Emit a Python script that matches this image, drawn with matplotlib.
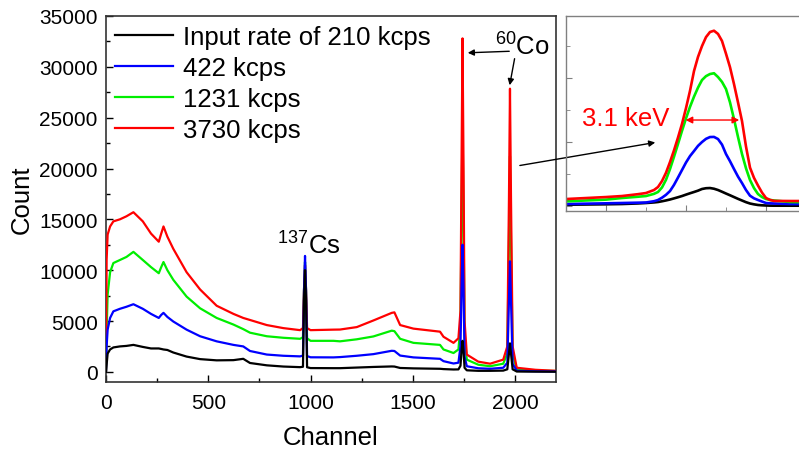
import matplotlib
matplotlib.use("Agg")
import matplotlib.pyplot as plt
from matplotlib.ticker import MultipleLocator

plt.rcParams['font.family'] = ['Liberation Sans', 'DejaVu Sans']
plt.rcParams['mathtext.fontset'] = 'custom'
plt.rcParams['mathtext.rm'] = 'Liberation Sans'

# Spectrum (channel -> count)
channels = [0, 3, 8, 20, 36, 68, 100, 134, 180, 220, 258, 270, 281, 300, 329, 394,
            460, 541, 623, 671, 704, 786, 867, 949, 963, 968, 973, 978, 983, 1000,
            1112, 1144, 1226, 1307, 1397, 1410, 1438, 1503, 1633, 1650, 1699, 1723,
            1733, 1738, 1743, 1748, 1753, 1764, 1820, 1878, 1942, 1962, 1970, 1975,
            1980, 1988, 2008, 2100, 2200]
count_210 = [0, 700, 1800, 2200, 2400, 2500, 2550, 2650, 2450, 2300, 2300, 2250, 2200,
             2150, 1900, 1500, 1250, 1130, 1150, 1280, 870, 640, 520, 460, 500, 7000,
             10000, 7000, 450, 370, 360, 360, 420, 480, 530, 520, 380, 340, 300, 270,
             230, 240, 600, 2000, 3050, 2000, 400, 150, 100, 100, 120, 250, 1800, 2800,
             1800, 250, 30, 20, 10]
count_422 = [0, 2500, 4150, 5300, 5950, 6200, 6400, 6650, 6200, 5700, 5300, 5600, 5800,
             5400, 4950, 4150, 3500, 3000, 2650, 2500, 2050, 1700, 1580, 1520, 1600, 8000,
             11400, 8000, 1550, 1430, 1420, 1450, 1580, 1740, 2070, 2050, 1600, 1420, 1280,
             1050, 820, 900, 2500, 8000, 12500, 8000, 1500, 550, 350, 300, 400, 900, 7000,
             10870, 7000, 800, 100, 50, 30]
count_1231 = [0, 4000, 7600, 9800, 10700, 11000, 11300, 11800, 11000, 10300, 9700, 10300,
              10800, 10000, 9050, 7400, 6250, 5300, 4650, 4200, 3850, 3500, 3350, 3250,
              3400, 8000, 10800, 8000, 3300, 3050, 3050, 3000, 3200, 3480, 4050, 4000,
              3250, 2850, 2650, 2200, 1850, 2200, 4500, 15000, 25000, 15000, 3500, 1200,
              700, 550, 800, 1800, 13000, 21200, 13000, 1800, 250, 120, 80]
count_3730 = [0, 11000, 13500, 14300, 14800, 15000, 15300, 15700, 14800, 13600, 12800,
              13600, 14300, 13300, 12100, 9800, 8100, 6500, 5700, 5300, 5100, 4600, 4300,
              4100, 4300, 8000, 10500, 8000, 4300, 4100, 4150, 4160, 4400, 5050, 5800,
              5850, 4600, 4250, 3950, 3450, 2850, 3300, 6000, 20000, 32800, 20000, 5000,
              1700, 1000, 800, 1200, 2500, 17000, 27850, 17000, 2500, 400, 200, 100]

# Zoomed 60Co peak (inset)
inset_ch = [1955, 1960, 1962, 1964, 1965, 1966, 1966.5, 1967, 1967.5, 1968, 1968.5,
            1969, 1969.5, 1970, 1970.5, 1971, 1971.5, 1972, 1972.5, 1973, 1973.5, 1974,
            1974.5, 1975, 1975.5, 1976, 1976.5, 1977, 1977.5, 1978, 1978.5, 1979,
            1979.5, 1980, 1980.5, 1981, 1983, 1986]
inset_210 = [200, 270, 310, 400, 470, 560, 625, 740, 870, 1015, 1190, 1370, 1560, 1780,
             1990, 2190, 2400, 2660, 2780, 2810, 2700, 2500, 2230, 1950, 1680, 1400, 1120,
             860, 600, 390, 260, 160, 110, 80, 60, 50, 50, 50]
inset_422 = [310, 420, 470, 520, 550, 750, 940, 1300, 1750, 2340, 3300, 4450, 5625, 6800,
             7800, 8590, 9400, 10000, 10500, 10780, 10800, 10470, 9600, 8125, 7000, 5780,
             4600, 3590, 2500, 1610, 1200, 940, 700, 470, 420, 390, 310, 310]
inset_1231 = [730, 1000, 1250, 1450, 1560, 1900, 2190, 2900, 4100, 5780, 7700, 9700,
              11750, 13700, 15500, 17090, 18500, 19690, 20300, 20630, 20750, 20160, 19400,
              18280, 16200, 13590, 10800, 8130, 5900, 4060, 2800, 1875, 1400, 1090, 950,
              860, 625, 580]
inset_3730 = [1090, 1400, 1560, 1850, 2030, 2500, 2970, 3900, 5200, 6870, 8700, 10700,
              12840, 15300, 18000, 21090, 23300, 25000, 26400, 27200, 27400, 26900, 25800,
              23800, 21700, 19060, 16200, 13280, 9300, 6000, 4400, 3200, 2100, 1250, 950,
              800, 780, 780]

labels = ['Input rate of 210 kcps', '422 kcps', '1231 kcps', '3730 kcps']
colors = ['black', '#0000ff', '#00ee00', '#ff0000']

fig = plt.figure(figsize=(7.99, 4.52), dpi=100)
ax = fig.add_axes([106 / 799, 1 - 383 / 452, 450 / 799, 366 / 452])

main_series = [count_210, count_422, count_1231, count_3730]
zorders = [5, 4, 2, 3]
for y, c, lab, z in zip(main_series, colors, labels, zorders):
    ax.plot(channels, y, color=c, lw=1.6, label=lab, zorder=z)

ax.set_xlim(0, 2200)
ax.set_ylim(-1000, 35000)
ax.xaxis.set_major_locator(MultipleLocator(500))
ax.xaxis.set_minor_locator(MultipleLocator(250))
ax.yaxis.set_major_locator(MultipleLocator(5000))
ax.yaxis.set_minor_locator(MultipleLocator(2500))
ax.tick_params(which='both', direction='in', labelsize=15, width=1)
ax.tick_params(which='major', length=5, pad=6)
ax.tick_params(axis='x', which='major', pad=8)
ax.tick_params(which='minor', length=3)
for s in ax.spines.values():
    s.set_linewidth(1.2)
    s.set_color('#333333')
ax.set_xlabel('Channel', fontsize=18.5, labelpad=9)
ax.set_ylabel('Count', fontsize=18.5, labelpad=4)

leg = ax.legend(loc='upper left', bbox_to_anchor=(0.02, 0.976), frameon=False,
                fontsize=18.5, handlelength=2.25, handletextpad=0.4,
                labelspacing=0.28, borderaxespad=0, borderpad=0)

ax.text(836, 11600, r'$\mathregular{^{137}}$Cs', fontsize=18.5, va='baseline')
ax.text(1902, 31200, r'$\mathregular{^{60}}$Co', fontsize=18.5, va='baseline')
arrow_kw = dict(arrowstyle='-|>', color='black', lw=1, mutation_scale=9)
ax.annotate('', xy=(1755, 31370), xytext=(1985, 31540), arrowprops=arrow_kw)
ax.annotate('', xy=(1971, 27920), xytext=(2000, 31070), arrowprops=arrow_kw)
ax.annotate('', xy=(658 / 799, 1 - 143 / 452), xycoords='figure fraction',
            xytext=(2010, 20250), textcoords='data', arrowprops=arrow_kw,
            annotation_clip=False, zorder=10)

# inset
ax_in = fig.add_axes([566 / 799, 1 - 212 / 452, 240 / 799, 195 / 452])
ax_in.set_facecolor('none')
for y, c in zip([inset_210, inset_422, inset_1231, inset_3730], colors):
    ax_in.plot(inset_ch, y, color=c, lw=1.9)
ax_in.set_xlim(1955, 1985)
ax_in.set_ylim(-780, 29700)
ax_in.xaxis.set_major_locator(MultipleLocator(10))
ax_in.xaxis.set_minor_locator(MultipleLocator(5))
ax_in.yaxis.set_major_locator(MultipleLocator(10000))
ax_in.yaxis.set_minor_locator(MultipleLocator(5000))
ax_in.tick_params(which='both', direction='in', labelleft=False, labelbottom=False,
                  color='#808080')
ax_in.tick_params(which='major', length=4)
ax_in.tick_params(which='minor', length=3)
for s in ax_in.spines.values():
    s.set_color('#808080')
    s.set_linewidth(1)
ax_in.annotate('', xy=(1969.6, 13440), xytext=(1977.0, 13440),
               arrowprops=dict(arrowstyle='<|-|>', color='red', lw=1, mutation_scale=10))
ax_in.text(1957, 12660, '3.1 keV', color='red', fontsize=18.5, va='baseline')

fig.savefig('out.png', dpi=100)
